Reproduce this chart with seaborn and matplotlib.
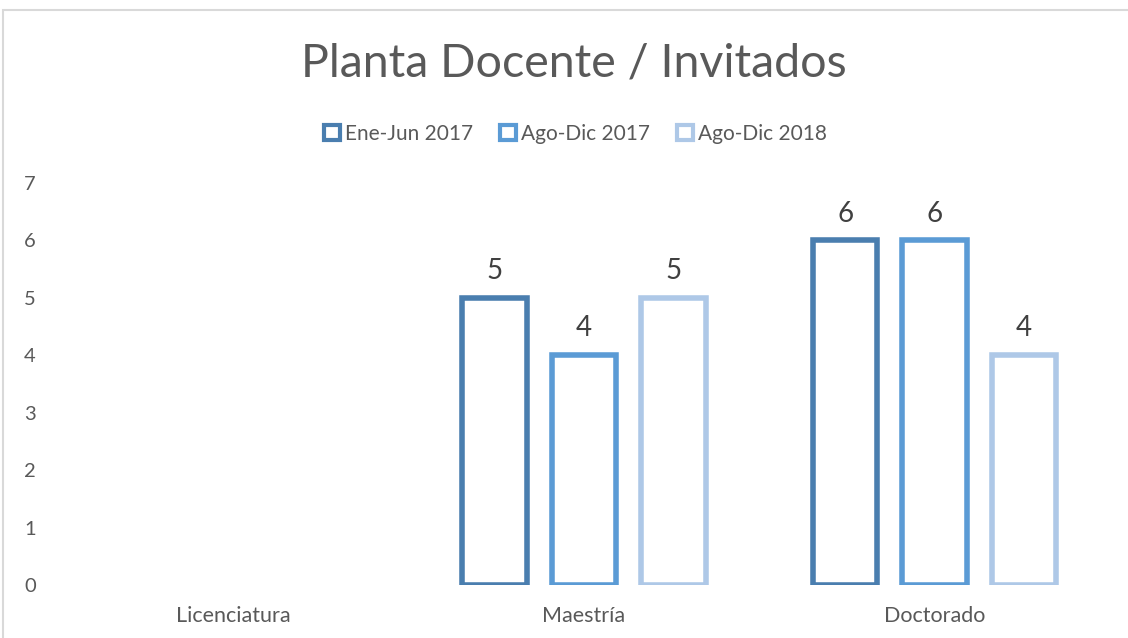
import matplotlib.pyplot as plt
import pandas as pd
import seaborn as sns
from matplotlib.patches import Patch, Rectangle

# data
categories = ["Licenciatura", "Maestría", "Doctorado"]
periods = ["Ene-Jun 2017", "Ago-Dic 2017", "Ago-Dic 2018"]
maestria = [5, 4, 5]
doctorado = [6, 6, 4]

darkBlue = "#4a7eaf"
midBlue = "#5b9bd5"
lightBlue = "#aec8e7"
myColors = [darkBlue, midBlue, lightBlue]

df = pd.DataFrame(
    {
        "nivel": ["Maestría"] * 3 + ["Doctorado"] * 3,
        "periodo": periods * 2,
        "valor": maestria + doctorado,
    }
)

sns.set_style("white")
plt.rcParams["font.family"] = ["Lato", "DejaVu Sans"]

fig = plt.figure(figsize=(11.28, 6.38), dpi=100)
ax = fig.add_axes((0.0514, 0.083, 0.9326, 0.6302))

sns.barplot(
    data=df,
    x="nivel",
    y="valor",
    hue="periodo",
    order=categories,
    hue_order=periods,
    palette=myColors,
    fill=False,
    linewidth=4,
    width=0.765,
    gap=0.28,
    legend=False,
    ax=ax,
)

for cont in ax.containers:
    ax.bar_label(cont, fmt="%g", padding=10, fontsize=20, color="#404040")

ax.set_ylim(0, 7)
ax.set_xlim(-0.5, 2.5)
ax.set_yticks(range(8))
ax.set_xlabel("")
ax.set_ylabel("")
ax.tick_params(axis="y", length=0, pad=16, labelsize=14.5, labelcolor="#595959")
ax.tick_params(axis="x", length=0, pad=15, labelsize=15.5, labelcolor="#595959")
sns.despine(ax=ax, left=True, bottom=True)

handles = [
    Patch(facecolor="white", edgecolor=c, linewidth=3, label=p)
    for c, p in zip(myColors, periods)
]
fig.legend(
    handles=handles,
    loc="center",
    bbox_to_anchor=(0.51, 0.79),
    ncol=3,
    frameon=False,
    fontsize=15,
    handlelength=0.75,
    handleheight=0.75,
    handletextpad=0.25,
    columnspacing=1.3,
    labelcolor="#595959",
)

fig.text(0.509, 0.9, "Planta Docente / Invitados", ha="center", va="center",
         fontsize=33.5, color="#595959")

# light chart-area border
fig.patches.append(
    Rectangle((3 / 1128, -0.1), 1.2, 1.1 - 10 / 638, transform=fig.transFigure,
              fill=False, edgecolor="#d9d9d9", linewidth=1.5)
)

fig.savefig("out.png", dpi=100)
